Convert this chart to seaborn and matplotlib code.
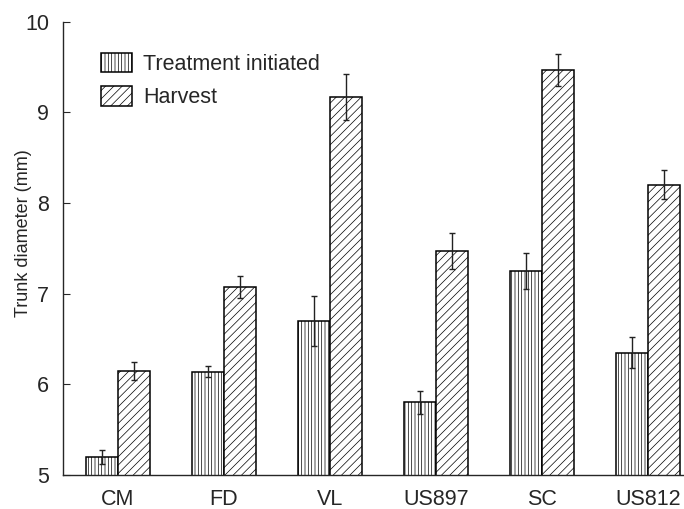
import matplotlib
matplotlib.use("Agg")
import matplotlib.pyplot as plt
import pandas as pd
import numpy as np
import seaborn as sns

# data
rootstocks = ["CM", "FD", "VL", "US897", "SC", "US812"]
treatment = [5.20, 6.14, 6.70, 5.80, 7.25, 6.35]
treatment_err = [0.08, 0.06, 0.28, 0.13, 0.20, 0.17]
harvest = [6.15, 7.07, 9.17, 7.47, 9.47, 8.20]
harvest_err = [0.10, 0.12, 0.25, 0.20, 0.18, 0.16]
stages = ["Treatment initiated", "Harvest"]

df = pd.DataFrame({
    "rootstock": rootstocks * 2,
    "stage": [stages[0]] * 6 + [stages[1]] * 6,
    "diameter": treatment + harvest,
})

sns.set_style("ticks")
plt.rcParams["font.family"] = ["Liberation Sans", "DejaVu Sans"]
plt.rcParams["hatch.linewidth"] = 0.5

fig = plt.figure(figsize=(6.84, 5.09), dpi=100)
ax = fig.add_axes([0.092, 0.067, 0.908, 0.89])

sns.barplot(data=df, x="rootstock", y="diameter", hue="stage", order=rootstocks,
            hue_order=stages, width=0.6, errorbar=None, palette=["white", "white"],
            edgecolor="black", linewidth=1.1, legend=False, ax=ax)

hatches = ["|||||", "////"]
errs = [treatment_err, harvest_err]
vals = [treatment, harvest]
for cont, h, e, v in zip(ax.containers, hatches, errs, vals):
    xs = []
    for p in cont.patches:
        p.set_hatch(h)
        p.set_edgecolor("black")
        xs.append(p.get_x() + p.get_width() / 2)
    ax.errorbar(xs, v, yerr=e, fmt="none", ecolor="#222222", elinewidth=1.0,
                capsize=2.5, capthick=1.0, zorder=5)

ax.set_ylim(5, 10)
ax.set_xlim(-0.52, 5.34)
ax.set_yticks([5, 6, 7, 8, 9, 10])
ax.set_xlabel("")
ax.set_ylabel("Trunk diameter (mm)", fontsize=13)
ax.yaxis.set_label_coords(-0.05, 0.534)
ax.tick_params(axis="y", direction="in", length=5, labelsize=15.5, pad=10)
ax.tick_params(axis="x", length=0, labelsize=15.5, pad=10)
for s in ["top", "right"]:
    ax.spines[s].set_visible(False)
for s in ["left", "bottom"]:
    ax.spines[s].set_linewidth(1.0)

ax.legend([ax.containers[0].patches[0], ax.containers[1].patches[0]], stages,
          loc="upper left", bbox_to_anchor=(0.03, 0.975), frameon=False,
          fontsize=15.5, handlelength=1.45, handleheight=1.0, handletextpad=0.5,
          labelspacing=0.55)

fig.savefig("out.png", dpi=100)
